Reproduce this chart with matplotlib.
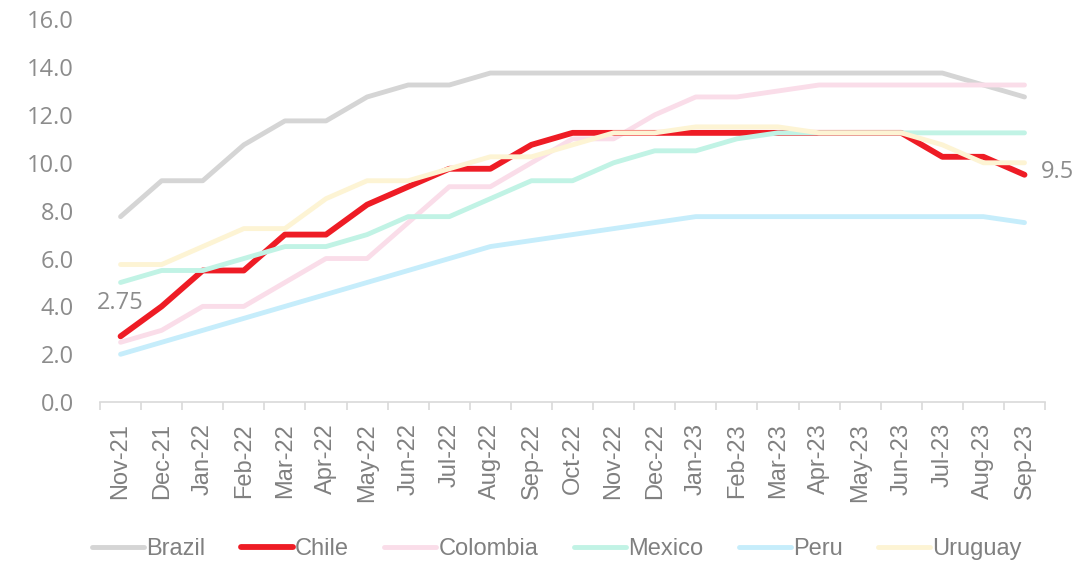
import matplotlib
matplotlib.use('Agg')
import matplotlib.pyplot as plt

# Policy rates by country, monthly
months = ['Nov-21', 'Dec-21', 'Jan-22', 'Feb-22', 'Mar-22', 'Apr-22', 'May-22', 'Jun-22',
          'Jul-22', 'Aug-22', 'Sep-22', 'Oct-22', 'Nov-22', 'Dec-22', 'Jan-23', 'Feb-23',
          'Mar-23', 'Apr-23', 'May-23', 'Jun-23', 'Jul-23', 'Aug-23', 'Sep-23']

brazil = [7.75, 9.25, 9.25, 10.75, 11.75, 11.75, 12.75, 13.25, 13.25, 13.75, 13.75, 13.75,
          13.75, 13.75, 13.75, 13.75, 13.75, 13.75, 13.75, 13.75, 13.75, 13.25, 12.75]
chile = [2.75, 4.0, 5.5, 5.5, 7.0, 7.0, 8.25, 9.0, 9.75, 9.75, 10.75, 11.25,
         11.25, 11.25, 11.25, 11.25, 11.25, 11.25, 11.25, 11.25, 10.25, 10.25, 9.5]
colombia = [2.5, 3.0, 4.0, 4.0, 5.0, 6.0, 6.0, 7.5, 9.0, 9.0, 10.0, 11.0,
            11.0, 12.0, 12.75, 12.75, 13.0, 13.25, 13.25, 13.25, 13.25, 13.25, 13.25]
mexico = [5.0, 5.5, 5.5, 6.0, 6.5, 6.5, 7.0, 7.75, 7.75, 8.5, 9.25, 9.25,
          10.0, 10.5, 10.5, 11.0, 11.25, 11.25, 11.25, 11.25, 11.25, 11.25, 11.25]
peru = [2.0, 2.5, 3.0, 3.5, 4.0, 4.5, 5.0, 5.5, 6.0, 6.5, 6.75, 7.0,
        7.25, 7.5, 7.75, 7.75, 7.75, 7.75, 7.75, 7.75, 7.75, 7.75, 7.5]
uruguay = [5.75, 5.75, 6.5, 7.25, 7.25, 8.5, 9.25, 9.25, 9.75, 10.25, 10.25, 10.75,
           11.25, 11.25, 11.5, 11.5, 11.5, 11.25, 11.25, 11.25, 10.75, 10.0, 10.0]

series = [
    ('Brazil', brazil, '#d5d5d5', 3.5, 2),
    ('Chile', chile, '#ee1c25', 4.2, 3),
    ('Colombia', colombia, '#fadde9', 3.5, 2.5),
    ('Mexico', mexico, '#c1f3e5', 3.5, 4),
    ('Peru', peru, '#c6edfb', 3.5, 4),
    ('Uruguay', uruguay, '#fdf4d4', 3.5, 5),
]

grey = '#8c8c8c'

fig = plt.figure(figsize=(10.92, 5.64), dpi=100)
ax = fig.add_axes([0.0916, 0.287, 0.8654, 0.679])

x = list(range(len(months)))
for name, vals, col, lw, z in series:
    ax.plot(x, vals, color=col, lw=lw, label=name, zorder=z,
            solid_capstyle='round', solid_joinstyle='round')

ax.set_xlim(-0.5, len(months) - 0.5)
ax.set_ylim(0, 16)
ax.set_yticks(range(0, 17, 2))
ax.set_yticklabels([f'{v:.1f}' for v in range(0, 17, 2)], fontfamily='Open Sans',
                   fontsize=17, color=grey)
ax.tick_params(axis='y', length=0, pad=19)

ax.set_xticks(x)
ax.set_xticklabels(months, rotation=90, fontfamily='Liberation Sans', fontsize=17,
                   color='#808080')
ax.set_xticks([i - 0.5 for i in range(len(months) + 1)], minor=True)
ax.tick_params(axis='x', which='major', length=0, pad=15)
ax.tick_params(axis='x', which='minor', length=6, width=1.2, color='#d9d9d9')

for side in ['top', 'right', 'left']:
    ax.spines[side].set_visible(False)
ax.spines['bottom'].set_color('#d9d9d9')
ax.spines['bottom'].set_linewidth(1.2)

# end labels for Chile
ax.annotate('2.75', (0, chile[0]), xytext=(0, 24), textcoords='offset points',
            ha='center', va='center', fontfamily='Open Sans', fontsize=17, color=grey)
ax.annotate('9.5', (len(months) - 1, chile[-1]), xytext=(12, 2), textcoords='offset points',
            ha='left', va='center', fontfamily='Open Sans', fontsize=17, color=grey)

leg = fig.legend(loc='center', bbox_to_anchor=(0.51, 0.027), ncol=6, frameon=False,
                 handlelength=2.2, handletextpad=0.1, columnspacing=1.5,
                 prop={'family': 'Liberation Sans', 'size': 17})
for t in leg.get_texts():
    t.set_color('#808080')

fig.savefig('out.png', dpi=100)
